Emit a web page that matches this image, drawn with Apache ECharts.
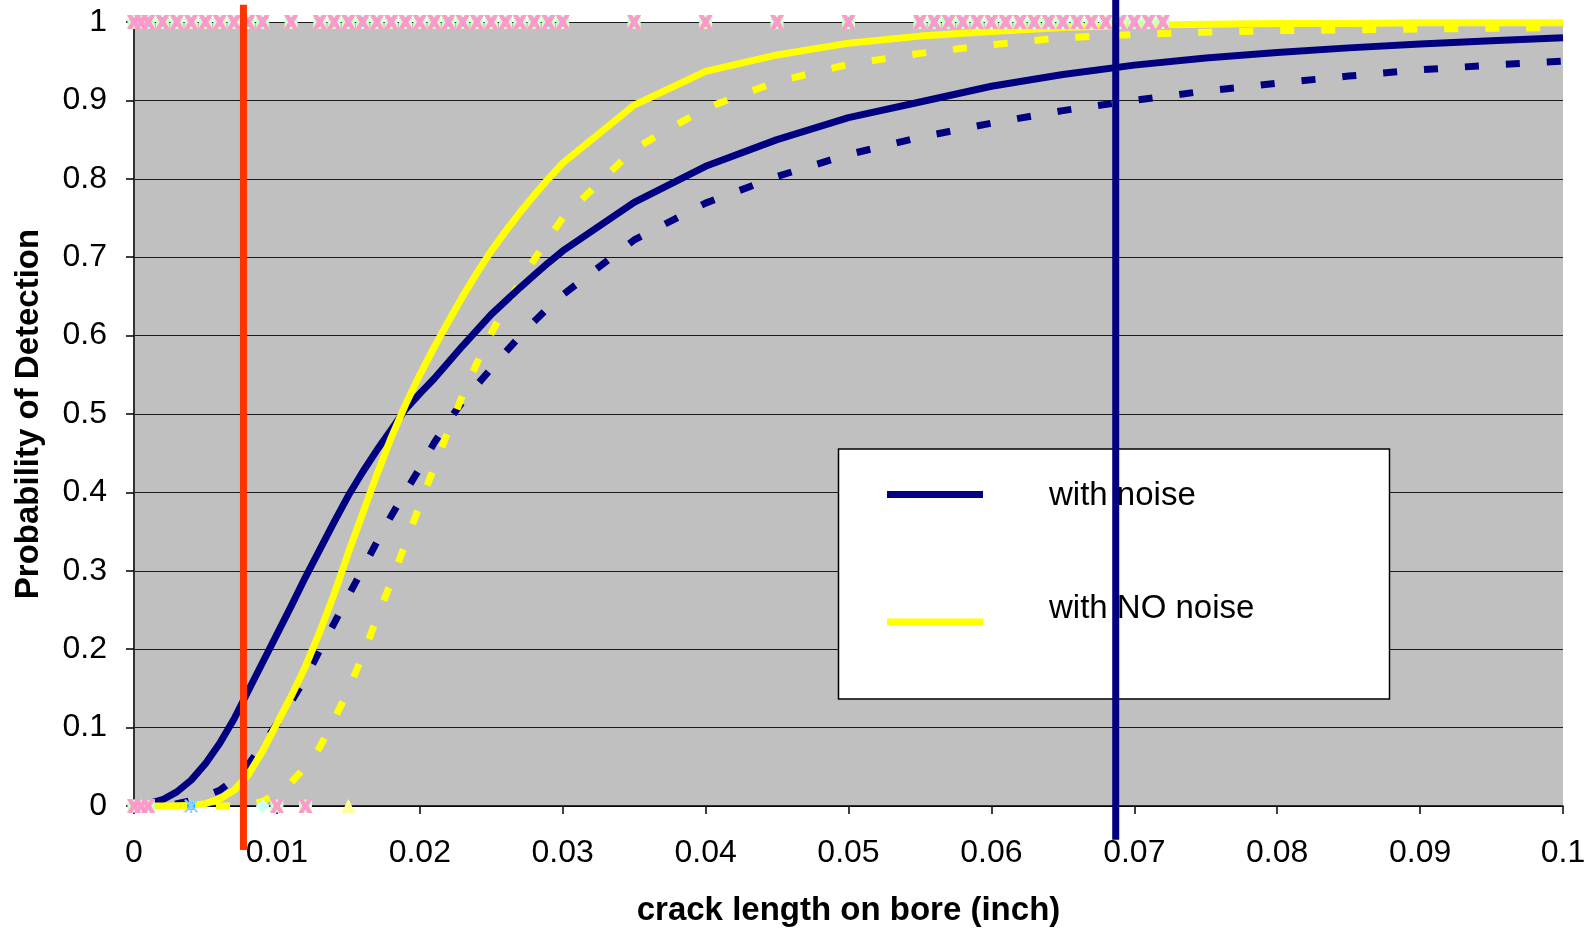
<!DOCTYPE html>
<html>
<head>
<meta charset="utf-8">
<script src="https://cdn.jsdelivr.net/npm/echarts@6/dist/echarts.min.js"></script>
<style>
html,body{margin:0;padding:0;background:#fff;}
#chart{width:1595px;height:932px;}
</style>
</head>
<body>
<div id="chart"></div>
<script>
// ---------- DATA ----------
const crackLen = [0,0.001,0.002,0.003,0.004,0.005,0.006,0.007,0.008,0.009,
  0.010,0.011,0.012,0.013,0.014,0.015,0.016,0.017,0.018,0.019,
  0.020,0.021,0.022,0.023,0.024,0.025,0.026,0.027,0.028,0.029,
  0.030,0.035,0.040,0.045,0.050,0.055,0.060,0.065,0.070,0.075,
  0.080,0.085,0.090,0.095,0.100];

// POD with noise (solid navy)
const podNoise = [0,0.003,0.008,0.018,0.033,0.054,0.080,0.111,0.147,0.183,
  0.219,0.255,0.292,0.327,0.362,0.396,0.426,0.454,0.480,0.506,
  0.526,0.545,0.566,0.587,0.607,0.627,0.644,0.661,0.677,0.693,
  0.708,0.770,0.816,0.850,0.878,0.898,0.918,0.933,0.945,0.954,
  0.961,0.967,0.972,0.976,0.980];

// POD with noise, lower bound (dashed navy)
const podNoiseLow = [0,0,0.001,0.003,0.007,0.013,0.020,0.034,0.053,0.078,
  0.105,0.133,0.163,0.199,0.233,0.268,0.302,0.337,0.370,0.401,
  0.431,0.463,0.491,0.516,0.537,0.558,0.579,0.599,0.618,0.636,
  0.652,0.722,0.769,0.803,0.831,0.853,0.871,0.887,0.900,0.912,
  0.922,0.931,0.939,0.945,0.950];

// POD with NO noise (solid yellow)
const podNoNoise = [0,0,0,0,0.001,0.003,0.009,0.020,0.040,0.070,
  0.105,0.140,0.178,0.222,0.270,0.323,0.373,0.423,0.470,0.512,
  0.550,0.585,0.618,0.650,0.680,0.708,0.733,0.757,0.779,0.800,
  0.820,0.894,0.937,0.958,0.973,0.982,0.988,0.993,0.996,0.997,
  0.998,0.998,0.999,0.999,0.999];

// POD with NO noise, lower bound (dashed yellow)
const podNoNoiseLow = [0,0,0,0,0,0,0,0,0.001,0.006,
  0.016,0.030,0.050,0.075,0.110,0.148,0.192,0.240,0.286,0.335,
  0.384,0.432,0.479,0.524,0.565,0.603,0.637,0.668,0.697,0.724,
  0.750,0.838,0.890,0.924,0.946,0.960,0.971,0.980,0.984,0.987,
  0.989,0.990,0.991,0.992,0.993];

// hit / miss inspection results
const hitX = [0,0.0005,0.001,0.002,0.003,0.004,0.005,0.006,0.007,0.008,0.009,
  0.011,0.013,0.014,0.015,0.016,0.017,0.018,0.019,0.020,0.021,0.022,0.023,0.024,
  0.025,0.026,0.027,0.028,0.029,0.030,0.035,0.040,0.045,0.050,
  0.055,0.056,0.057,0.058,0.059,0.060,0.061,0.062,0.063,0.064,0.065,0.066,
  0.067,0.068,0.069,0.070,0.071,0.072];
const missCrossX = [0,0.0005,0.001,0.010,0.012];
const missDiamondX = [0.0005,0.009];
const missStarX = [0.004];
const missTriangleX = [0.015];

// threshold lines (crack length, POD extent)
const redLineX = 0.00766;
const redLineY = [-0.056, 1.022];
const navyLineX = 0.0687;
const navyLineY = [-0.043, 1.03];

const xTickLabels = ['0','0.01','0.02','0.03','0.04','0.05','0.06','0.07','0.08','0.09','0.1'];
const yTickLabels = ['0','0.1','0.2','0.3','0.4','0.5','0.6','0.7','0.8','0.9','1'];
const legendLabels = ['with noise','with NO noise'];
const xTitle = 'crack length on bore (inch)';
const yTitle = 'Probability of Detection';

// ---------- CHART ----------
const FONT = 'Liberation Sans, Arial, sans-serif';
const NAVY = '#000080', YELLOW = '#FFFF00', RED = '#FF3300';
const zip = (xs, ys) => xs.map((x, i) => [x, ys[i]]);
const XPATH = 'path://M0,0 L3.6,0 L5,2.6 L6.4,0 L10,0 L7.1,5 L10,10 L6.4,10 L5,7.4 L3.6,10 L0,10 L2.9,5 Z';
const STARPATH = 'path://M0,1 L1,0 L5,4 L9,0 L10,1 L6,5 L10,9 L9,10 L5,6 L1,10 L0,9 L4,5 Z M4.3,0 L5.7,0 L5.7,10 L4.3,10 Z';

function curve(name, ys, color, dashed, z) {
  return {
    type: 'line', name, data: zip(crackLen, ys), symbol: 'none', z,
    lineStyle: { color, width: 7, type: dashed ? [14, 27] : 'solid', cap: 'butt' },
    emphasis: { disabled: true }, silent: true
  };
}
function marks(name, xs, yv, symbol, size, color, z) {
  return {
    type: 'scatter', name, data: xs.map(x => [x, yv]), symbol, symbolSize: size, z,
    itemStyle: { color, opacity: 1 }, emphasis: { disabled: true }, silent: true
  };
}

const chart = echarts.init(document.getElementById('chart'), null, { renderer: 'canvas' });
chart.setOption({
  animation: false,
  backgroundColor: '#ffffff',
  grid: { left: 134, right: 32, top: 22, bottom: 123, show: true, backgroundColor: '#C0C0C0', borderWidth: 0 },
  xAxis: {
    type: 'value', min: 0, max: 0.1, interval: 0.01,
    name: xTitle, nameLocation: 'middle', nameGap: 88,
    nameTextStyle: { fontSize: 33, fontWeight: 'bold', color: '#000', fontFamily: FONT },
    axisLine: { show: true, onZero: false, lineStyle: { color: '#000', width: 1.5 } },
    axisTick: { show: true, length: 8, lineStyle: { color: '#000', width: 1.5 } },
    axisLabel: { fontSize: 32, color: '#000', fontFamily: FONT, margin: 31,
      formatter: v => xTickLabels[Math.round(v / 0.01)] },
    splitLine: { show: false }
  },
  yAxis: {
    type: 'value', min: 0, max: 1, interval: 0.1,
    name: yTitle, nameLocation: 'middle', nameGap: 89,
    nameTextStyle: { fontSize: 33, fontWeight: 'bold', color: '#000', fontFamily: FONT },
    axisLine: { show: true, lineStyle: { color: '#333', width: 2 } },
    axisTick: { show: true, length: 8, lineStyle: { color: '#000', width: 1.5 } },
    axisLabel: { fontSize: 32, color: '#000', fontFamily: FONT, margin: 27,
      formatter: v => yTickLabels[Math.round(v / 0.1)] },
    splitLine: { show: true, lineStyle: { color: '#1a1a1a', width: 1.2 } }
  },
  graphic: [
    { type: 'rect', z: 4, shape: { x: 838.5, y: 449, width: 551, height: 250 },
      style: { fill: '#fff', stroke: '#000', lineWidth: 1.5 } },
    { type: 'line', z: 5, shape: { x1: 887, y1: 494.5, x2: 983, y2: 494.5 },
      style: { stroke: NAVY, lineWidth: 7 } },
    { type: 'line', z: 5, shape: { x1: 887, y1: 622, x2: 983, y2: 622 },
      style: { stroke: YELLOW, lineWidth: 7 } },
    { type: 'text', z: 5, x: 1049, y: 496,
      style: { text: legendLabels[0], fill: '#000', font: '33px ' + FONT, textVerticalAlign: 'middle', verticalAlign: 'middle' } },
    { type: 'text', z: 5, x: 1049, y: 609,
      style: { text: legendLabels[1], fill: '#000', font: '33px ' + FONT, textVerticalAlign: 'middle', verticalAlign: 'middle' } }
  ],
  series: [
    curve('with noise (lower)', podNoiseLow, NAVY, true, 2),
    curve('with NO noise (lower)', podNoNoiseLow, YELLOW, true, 2),
    curve('with noise', podNoise, NAVY, false, 3),
    curve('with NO noise', podNoNoise, YELLOW, false, 3),
    marks('hit tri', hitX, 1, 'triangle', 14, '#FFFF99', 7),
    marks('hit sq', hitX, 1, 'rect', 13, '#CCFFCC', 7),
    marks('hit star', hitX, 1, STARPATH, 9, '#33CCFF', 7),
    marks('hit x', hitX, 1, XPATH, 14, '#FF99CC', 7),
    marks('miss tri', missTriangleX, 0, 'triangle', 14, '#FFFF99', 7),
    marks('miss diamond', missDiamondX, 0, 'diamond', 14, '#CCFFFF', 7),
    marks('miss star bg', missStarX, 0, 'rect', 8, '#00CCFF', 7),
    marks('miss star', missStarX, 0, STARPATH, 14, '#99CCFF', 7),
    marks('miss sq', missCrossX, 0, 'rect', 13, '#CCFFCC', 7),
    marks('miss x', missCrossX, 0, XPATH, 14, '#FF99CC', 7),
    { type: 'line', name: 'red threshold', data: redLineY.map(y => [redLineX, y]), symbol: 'none',
      clip: false, z: 8, lineStyle: { color: RED, width: 7 }, silent: true },
    { type: 'line', name: 'navy threshold', data: navyLineY.map(y => [navyLineX, y]), symbol: 'none',
      clip: false, z: 8, lineStyle: { color: NAVY, width: 7 }, silent: true }
  ]
});
</script>
</body>
</html>
